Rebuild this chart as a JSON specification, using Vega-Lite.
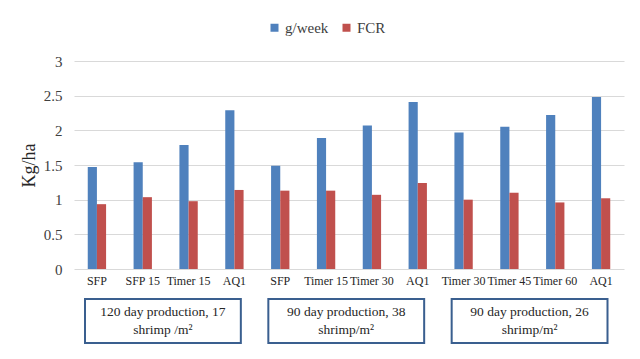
{
  "$schema": "https://vega.github.io/schema/vega-lite/v6.json",
  "padding": {"left": 20, "top": 20, "right": 16, "bottom": 0},
  "background": "white",
  "config": {
    "font": "Liberation Serif",
    "view": {"stroke": null},
    "axis": {"labelFont": "Liberation Serif", "titleFont": "Liberation Serif", "labelColor": "#404040", "titleColor": "#404040"},
    "legend": {"labelFont": "Liberation Serif"}
  },
  "spacing": 30,
  "bounds": "flush",
  "resolve": {"scale": {"x": "independent"}},
  "datasets": {
    "bars": [
      {"key": "01|SFP", "series": "g/week", "value": 1.47},
      {"key": "01|SFP", "series": "FCR", "value": 0.935},
      {"key": "02|SFP 15", "series": "g/week", "value": 1.54},
      {"key": "02|SFP 15", "series": "FCR", "value": 1.036},
      {"key": "03|Timer 15", "series": "g/week", "value": 1.79},
      {"key": "03|Timer 15", "series": "FCR", "value": 0.978},
      {"key": "04|AQ1", "series": "g/week", "value": 2.29},
      {"key": "04|AQ1", "series": "FCR", "value": 1.14},
      {"key": "05|SFP", "series": "g/week", "value": 1.49},
      {"key": "05|SFP", "series": "FCR", "value": 1.13},
      {"key": "06|Timer 15", "series": "g/week", "value": 1.89},
      {"key": "06|Timer 15", "series": "FCR", "value": 1.13},
      {"key": "07|Timer 30", "series": "g/week", "value": 2.07},
      {"key": "07|Timer 30", "series": "FCR", "value": 1.07},
      {"key": "08|AQ1", "series": "g/week", "value": 2.41},
      {"key": "08|AQ1", "series": "FCR", "value": 1.24},
      {"key": "09|Timer 30", "series": "g/week", "value": 1.97},
      {"key": "09|Timer 30", "series": "FCR", "value": 1.0},
      {"key": "10|Timer 45", "series": "g/week", "value": 2.05},
      {"key": "10|Timer 45", "series": "FCR", "value": 1.1},
      {"key": "11|Timer 60", "series": "g/week", "value": 2.22},
      {"key": "11|Timer 60", "series": "FCR", "value": 0.96},
      {"key": "12|AQ1", "series": "g/week", "value": 2.48},
      {"key": "12|AQ1", "series": "FCR", "value": 1.02}
    ],
    "groups": [
      {"start": "01|SFP", "end": "04|AQ1", "label": "120 day production, 17\nshrimp /m²"},
      {"start": "05|SFP", "end": "08|AQ1", "label": "90 day production, 38\nshrimp/m²"},
      {"start": "09|Timer 30", "end": "12|AQ1", "label": "90 day production, 26\nshrimp/m²"}
    ]
  },
  "vconcat": [
    {
      "width": 550,
      "height": 208,
      "data": {"name": "bars"},
      "mark": {"type": "bar"},
      "encoding": {
        "x": {
          "field": "key", "type": "nominal",
          "scale": {"paddingInner": 0.6, "paddingOuter": 0.3},
          "axis": {"title": null, "labelAngle": 0, "domain": false, "ticks": false, "tickSize": 0, "labelPadding": 6, "labelFontSize": 12, "labelColor": "#262626", "labelExpr": "split(datum.value, '|')[1]"}
        },
        "y": {
          "field": "value", "type": "quantitative",
          "scale": {"domain": [0, 3]},
          "axis": {"title": "Kg/ha", "titleFontSize": 18, "titleFontWeight": "normal", "titleColor": "#262626", "titlePadding": 5, "values": [0, 0.5, 1, 1.5, 2, 2.5, 3], "labelFontSize": 15, "labelPadding": 12, "domain": false, "ticks": false, "tickSize": 0, "gridColor": "#D9D9D9", "labelExpr": "datum.value"}
        },
        "xOffset": {"field": "series", "type": "nominal", "sort": ["g/week", "FCR"]},
        "color": {
          "field": "series", "type": "nominal",
          "sort": ["g/week", "FCR"],
          "scale": {"domain": ["g/week", "FCR"], "range": ["#4F81BD", "#C0504D"]},
          "legend": {"title": null, "orient": "none", "legendX": 193, "legendY": -41, "direction": "horizontal", "symbolType": "square", "symbolSize": 64, "labelFontSize": 15, "labelColor": "#404040", "columnPadding": 10, "labelOffset": 3}
        }
      }
    },
    {
      "width": 550,
      "height": 44,
      "data": {"name": "groups"},
      "layer": [
        {
          "mark": {"type": "rect", "fill": "white", "stroke": "#3A5F8F", "strokeWidth": 2},
          "encoding": {
            "x": {"field": "start", "type": "nominal", "bandPosition": 0.24,
              "scale": {"domain": ["01|SFP", "02|SFP 15", "03|Timer 15", "04|AQ1", "05|SFP", "06|Timer 15", "07|Timer 30", "08|AQ1", "09|Timer 30", "10|Timer 45", "11|Timer 60", "12|AQ1"], "paddingInner": 0, "paddingOuter": 0},
              "axis": null},
            "x2": {"field": "end", "bandPosition": 0.64}
          }
        },
        {
          "mark": {"type": "text", "fontSize": 13.5, "lineBreak": "\n", "lineHeight": 18, "color": "#262626", "baseline": "middle", "dy": -9},
          "encoding": {
            "x": {"field": "start", "type": "nominal", "bandPosition": 1.94, "axis": null},
            "text": {"field": "label"}
          }
        }
      ]
    }
  ]
}
